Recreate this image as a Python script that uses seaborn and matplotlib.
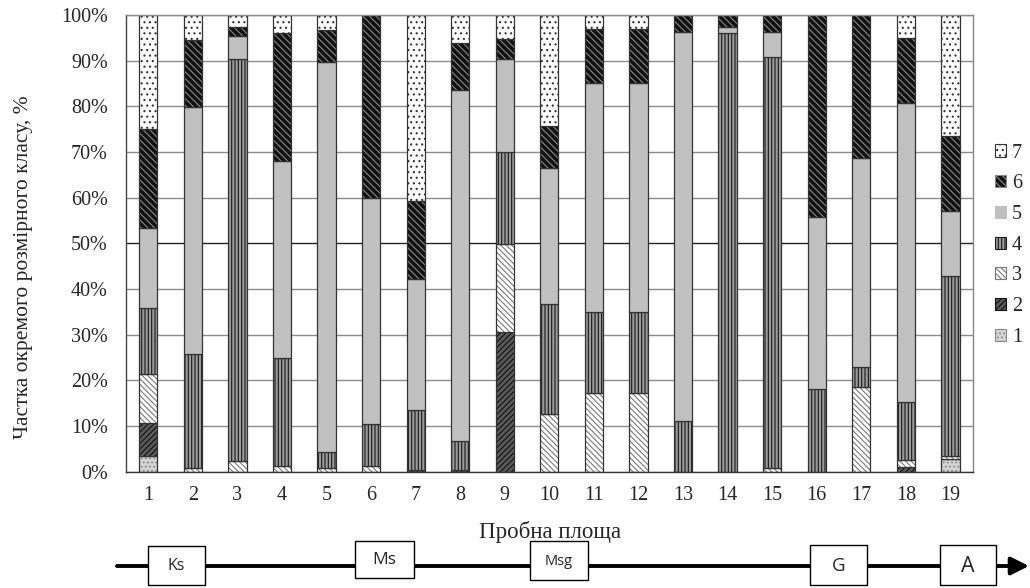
import matplotlib
matplotlib.use("Agg")
import matplotlib.pyplot as plt
import seaborn as sns
import numpy as np
from matplotlib.patches import Patch, Rectangle

plots = [str(i) for i in range(1, 20)]
class_names = ["1", "2", "3", "4", "5", "6", "7"]
c1 = [3.5, 0, 0, 0, 0, 0, 0, 0, 0, 0, 0, 0, 0, 0, 0, 0, 0, 0, 2.7]
c2 = [7.2, 0, 0, 0, 0, 0, 0.3, 0.3, 30.5, 0, 0, 0, 0, 0, 0, 0, 0, 1.1, 0]
c3 = [10.8, 0.9, 2.3, 1.3, 0.7, 1.3, 0, 0, 19.4, 12.6, 17.3, 17.3, 0, 0, 0.8, 0, 18.6, 1.5, 0.7]
c4 = [14.3, 24.8, 88.0, 23.5, 3.7, 9.1, 13.1, 6.5, 20.0, 24.2, 17.6, 17.6, 11.2, 96.0, 89.9, 18.1, 4.3, 12.6, 39.5]
c5 = [17.6, 54.2, 5.2, 43.3, 85.2, 49.6, 28.8, 76.8, 20.5, 29.6, 50.1, 50.1, 85.1, 1.4, 5.6, 37.7, 45.7, 65.6, 14.2]
c6 = [21.6, 14.6, 1.9, 27.9, 7.1, 40.0, 17.1, 10.2, 4.3, 9.4, 11.9, 11.9, 3.7, 2.6, 3.7, 44.2, 31.4, 14.2, 16.3]
c7 = [25.0, 5.5, 2.6, 4.0, 3.3, 0, 40.7, 6.2, 5.3, 24.2, 3.1, 3.1, 0, 0, 0, 0, 0, 5.0, 26.6]
series = [c1, c2, c3, c4, c5, c6, c7]
ytick_vals = list(range(0, 101, 10))
ytick_labels = [f"{v}%" for v in ytick_vals]
stages = ["Ks", "Ms", "Msg", "G", "A"]

# styles: (facecolor, hatch, hatchcolor)
styles = [
    ("#d4d4d4", "....", "#8a8a8a"),
    ("#5a5a5a", "//////", "#111111"),
    ("#ffffff", "\\\\\\\\\\\\", "#7a7a7a"),
    ("#9a9a9a", "|||||", "#1a1a1a"),
    ("#c0c0c0", "", "#c0c0c0"),
    ("#111111", "\\\\\\\\\\", "#8a8a8a"),
    ("#ffffff", "...", "#333333"),
]

sns.set_theme(style="white")
plt.rcParams["font.family"] = ["Liberation Serif", "DejaVu Serif"]
plt.rcParams["hatch.linewidth"] = 0.8

fig = plt.figure(figsize=(10.30, 5.88), dpi=100)
ax = fig.add_axes([0.1223, 0.1978, 0.9444 - 0.1223, 0.9745 - 0.1978])

ax.yaxis.grid(True, color="#8c8c8c", linewidth=1.0)
ax.set_axisbelow(True)

bottom = np.zeros(len(plots))
for vals, (fc, hatch, hc) in zip(series, styles):
    vals = np.array(vals, dtype=float)
    sns.barplot(x=plots, y=vals, order=plots, bottom=bottom, width=0.41,
                errorbar=None, color=fc, saturation=1, facecolor=fc, hatch=hatch,
                edgecolor=hc, linewidth=0, ax=ax)
    sns.barplot(x=plots, y=vals, order=plots, bottom=bottom, width=0.41,
                errorbar=None, color="#333333", saturation=1, facecolor="none",
                edgecolor="#333333", linewidth=0.9, ax=ax)
    bottom = bottom + vals

ax.set_xlim(-0.5, len(plots) - 0.5)
ax.set_ylim(0, 100)
ax.set_yticks(ytick_vals)
ax.set_yticklabels(ytick_labels, fontsize=14.5)
gl = ax.get_ygridlines()
gl[5].set_color("#222222")
ax.set_xticks(range(len(plots)))
ax.set_xticklabels(plots, fontsize=14.5)
ax.tick_params(axis="x", which="major", length=0, pad=10)
ax.set_xticks(np.arange(0.5, len(plots) - 0.5, 1.0), minor=True)
ax.tick_params(axis="x", which="minor", length=5, width=1, color="#333333", direction="out")
ax.tick_params(axis="y", length=6, width=1, color="#333333", direction="out", pad=7)
ax.set_xlabel("")
ax.set_ylabel("Частка окремого розмірного класу, %", fontsize=15.5)
ax.yaxis.set_label_coords(-0.110, 0.448)
for sp in ax.spines.values():
    sp.set_visible(True)
    sp.set_color("#888888")
    sp.set_linewidth(1.0)
ax.spines["bottom"].set_color("#333333")
ax.spines["left"].set_color("#444444")

# legend (7 at top)
handles = []
for (fc, hatch, hc) in styles:
    handles.append(Patch(facecolor=fc, hatch=hatch, edgecolor=hc, linewidth=0.8))
handles = handles[::-1]
labels = class_names[::-1]
leg = fig.legend(handles, labels, loc="center left", bbox_to_anchor=(0.966, 0.583),
                 frameon=False, fontsize=14.5, handlelength=0.55, handleheight=0.55,
                 handletextpad=0.3, labelspacing=0.58, borderaxespad=0, borderpad=0)

fig.text(0.534, 1 - 532 / 588, "Пробна площа", ha="center", va="center", fontsize=16.5)

# stage arrow diagram
W, H = 1030.0, 588.0
ax_d = fig.add_axes([0, 0, 1, 1], zorder=-1)
ax_d.set_xlim(0, W)
ax_d.set_ylim(H, 0)
ax_d.axis("off")
ax_d.annotate("", xy=(1029, 566), xytext=(117, 566),
              arrowprops=dict(arrowstyle="-|>,head_length=0.9,head_width=0.45",
                              color="black", lw=2.8, shrinkA=0, shrinkB=0))
boxes = [(148, 546, 205, 585, 11.5), (355, 541, 414, 578, 12.5), (530, 541, 588, 580, 10.5),
         (810, 545, 867, 585, 13.5), (940, 545, 996, 585, 15.5)]
for name, (x0, y0, x1, y1, fs) in zip(stages, boxes):
    ax_d.add_patch(Rectangle((x0, y0), x1 - x0, y1 - y0, facecolor="white",
                             edgecolor="black", linewidth=1.0, zorder=3))
    ax_d.text((x0 + x1) / 2, (y0 + y1) / 2 + 1, name, ha="center", va="center",
              fontsize=fs, family=["Open Sans", "DejaVu Sans"], zorder=4)

fig.savefig("out.png", dpi=100)
